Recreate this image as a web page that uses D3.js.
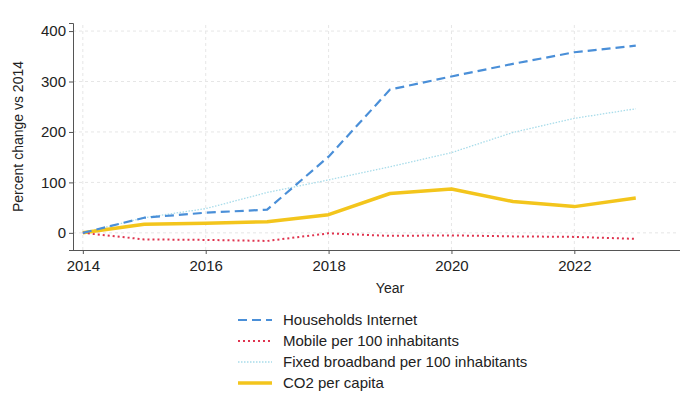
<!DOCTYPE html>
<html>
<head>
<meta charset="utf-8">
<script src="https://cdn.jsdelivr.net/npm/d3@7"></script>
<style>
  body { margin: 0; background: #fff; overflow: hidden; }
  svg { display: block; }
  svg text { font-family: "Liberation Sans", Arial, sans-serif; fill: #222; }
  .grid line { stroke: #e6e6e6; stroke-dasharray: 3,3; }
  .axis path, .axis line { stroke: #555; }
</style>
</head>
<body>
<div id="chart"></div>
<script>
/* DATA */
const years = [2014, 2015, 2016, 2017, 2018, 2019, 2020, 2021, 2022, 2023];
const householdsInternet = [0, 30, 40, 46, 151, 284, 310, 335, 358, 371];
const mobilePer100 = [0, -13, -14, -16, -1, -6, -5, -7, -8, -12];
const fixedBroadband = [0, 30, 48, 80, 105, 131, 159, 199, 227, 246];
const co2PerCapita = [0, 17, 19, 22, 36, 78, 87, 62, 52, 69];
const xTicks = [2014, 2016, 2018, 2020, 2022];
const yTicks = [0, 100, 200, 300, 400];
const seriesNames = ["Households Internet", "Mobile per 100 inhabitants", "Fixed broadband per 100 inhabitants", "CO2 per capita"];

/* CONSTANTS */
const width = 680, height = 406;
const margin = { top: 23, left: 73, right: 0, bottom: 156 };
const axisY = 250;

const series = [
  { name: seriesNames[0], values: householdsInternet, color: "#4a8fd8", width: 2.2, dash: "9,5" },
  { name: seriesNames[1], values: mobilePer100, color: "#e0344f", width: 2, dash: "2,3" },
  { name: seriesNames[2], values: fixedBroadband, color: "#a8dcea", width: 1.3, dash: "1.5,1.5" },
  { name: seriesNames[3], values: co2PerCapita, color: "#f3c51c", width: 3.5, dash: null }
];

const svg = d3.select("#chart").append("svg")
  .attr("width", width)
  .attr("height", height);

// scales
const xScale = d3.scaleLinear()
  .domain([2013.84, 2023.72])
  .range([margin.left, width - margin.right]);

const yScale = d3.scaleLinear()
  .domain([-34, 416])
  .range([axisY, margin.top]);

// gridlines
svg.append("g").attr("class", "grid")
  .selectAll("line")
  .data(yTicks)
  .join("line")
  .attr("x1", margin.left).attr("x2", width - 2)
  .attr("y1", d => yScale(d)).attr("y2", d => yScale(d));

svg.append("g").attr("class", "grid")
  .selectAll("line")
  .data(xTicks)
  .join("line")
  .attr("y1", axisY).attr("y2", margin.top)
  .attr("x1", d => xScale(d)).attr("x2", d => xScale(d));

// axes
const xAxis = d3.axisBottom(xScale).tickValues(xTicks).tickFormat(d3.format("d")).tickSizeOuter(0).tickSize(4);
const yAxis = d3.axisLeft(yScale).tickValues(yTicks).tickSizeOuter(0).tickSize(4);

svg.append("g")
  .attr("class", "axis x-axis")
  .attr("transform", `translate(0,${axisY})`)
  .call(xAxis)
  .call(g => g.select(".domain").remove())
  .call(g => g.selectAll("text").attr("font-size", 15).attr("dy", "0.95em"));

// x axis baseline drawn as a plain line so no end caps show
svg.append("line")
  .attr("x1", margin.left).attr("x2", width)
  .attr("y1", axisY + 0.5).attr("y2", axisY + 0.5)
  .attr("stroke", "#555");

svg.append("g")
  .attr("class", "axis y-axis")
  .attr("transform", `translate(${margin.left},0)`)
  .call(yAxis)
  .call(g => g.selectAll("text").attr("font-size", 15));

// axis titles
svg.append("text")
  .attr("x", 390)
  .attr("y", 293)
  .attr("text-anchor", "middle")
  .attr("font-size", 14)
  .text("Year");

svg.append("text")
  .attr("transform", `translate(23,${(axisY + margin.top) / 2}) rotate(-90)`)
  .attr("text-anchor", "middle")
  .attr("font-size", 14)
  .text("Percent change vs 2014");

// lines
const line = d3.line()
  .x((d, i) => xScale(years[i]))
  .y(d => yScale(d));

svg.append("g")
  .selectAll("path")
  .data([series[2], series[3], series[1], series[0]])
  .join("path")
  .attr("fill", "none")
  .attr("stroke", d => d.color)
  .attr("stroke-width", d => d.width)
  .attr("stroke-dasharray", d => d.dash)
  .attr("stroke-linejoin", "round")
  .attr("d", d => line(d.values));

// legend
const legend = svg.append("g")
  .selectAll("g")
  .data(series)
  .join("g")
  .attr("transform", (d, i) => `translate(238,${320 + i * 21})`);

legend.append("line")
  .attr("x1", 0).attr("x2", 34)
  .attr("stroke", d => d.color)
  .attr("stroke-width", d => d.width)
  .attr("stroke-dasharray", d => d.dash);

legend.append("text")
  .attr("x", 45)
  .attr("dy", "0.35em")
  .attr("font-size", 15)
  .text(d => d.name);
</script>
</body>
</html>
